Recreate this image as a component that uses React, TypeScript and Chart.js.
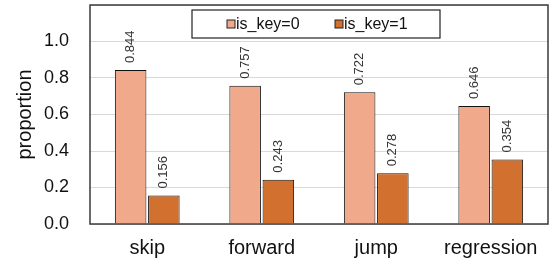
import React, { useEffect, useRef } from "react";
import { Chart, registerables } from "chart.js";

Chart.register(...registerables);

const categories = ["skip", "forward", "jump", "regression"];
const seriesLabels = ["is_key=0", "is_key=1"];
const isKey0 = [0.844, 0.757, 0.722, 0.646];
const isKey1 = [0.156, 0.243, 0.278, 0.354];
const yTicks = [0, 0.2, 0.4, 0.6, 0.8, 1.0];

const COLORS = ["#F0A98B", "#D2702F"];
const FONT = "'Liberation Sans', Arial, sans-serif";

const framePlugin = {
  id: "frame",
  afterDatasetsDraw(chart: any) {
    const { ctx, chartArea } = chart;
    ctx.save();
    ctx.strokeStyle = "#3a3a3a";
    ctx.lineWidth = 1.5;
    ctx.strokeRect(chartArea.left, chartArea.top, chartArea.right - chartArea.left, chartArea.bottom - chartArea.top);
    ctx.restore();
  },
};

const valueLabelPlugin = {
  id: "valueLabels",
  afterDatasetsDraw(chart: any) {
    const { ctx } = chart;
    ctx.save();
    ctx.font = `13px ${FONT}`;
    ctx.fillStyle = "#333";
    ctx.textAlign = "left";
    ctx.textBaseline = "middle";
    chart.data.datasets.forEach((ds: any, di: number) => {
      const meta = chart.getDatasetMeta(di);
      meta.data.forEach((bar: any, i: number) => {
        const v = ds.data[i];
        ctx.save();
        ctx.translate(bar.x, bar.y - 7);
        ctx.rotate(-Math.PI / 2);
        ctx.fillText(v.toFixed(3), 0, 0);
        ctx.restore();
      });
    });
    ctx.restore();
  },
};

const legendPlugin = {
  id: "boxLegend",
  afterDraw(chart: any) {
    const { ctx, chartArea } = chart;
    ctx.save();
    const boxW = 248;
    const boxH = 28;
    const cx = (chartArea.left + chartArea.right) / 2 - 3;
    const x0 = cx - boxW / 2;
    const y0 = chartArea.top + 5;
    ctx.fillStyle = "#fff";
    ctx.fillRect(x0, y0, boxW, boxH);
    ctx.strokeStyle = "#222";
    ctx.lineWidth = 1.2;
    ctx.strokeRect(x0, y0, boxW, boxH);
    ctx.font = `16px ${FONT}`;
    ctx.textBaseline = "middle";
    ctx.textAlign = "left";
    const starts = [x0 + 35, x0 + 143];
    chart.data.datasets.forEach((ds: any, i: number) => {
      const mx = starts[i];
      const my = y0 + boxH / 2;
      ctx.fillStyle = ds.backgroundColor;
      ctx.fillRect(mx, my - 4, 8, 8);
      ctx.strokeStyle = "#222";
      ctx.lineWidth = 1;
      ctx.strokeRect(mx, my - 4, 8, 8);
      ctx.fillStyle = "#111";
      ctx.fillText(ds.label, mx + 9, my + 1);
    });
    ctx.restore();
  },
};

export default function App() {
  const ref = useRef<HTMLCanvasElement>(null);
  useEffect(() => {
    document.body.style.margin = "0";
    const chart = new Chart(ref.current!, {
      type: "bar",
      data: {
        labels: categories,
        datasets: [
          { label: seriesLabels[0], data: isKey0, backgroundColor: COLORS[0], borderColor: "#111", borderWidth: 1 },
          { label: seriesLabels[1], data: isKey1, backgroundColor: COLORS[1], borderColor: "#111", borderWidth: 1 },
        ],
      },
      options: {
        animation: false,
        responsive: false,
        maintainAspectRatio: false,
        layout: { padding: { top: 5, right: 3, left: 0, bottom: 0 } },
        datasets: { bar: { categoryPercentage: 0.58, barPercentage: 0.95 } } as any,
        plugins: { legend: { display: false }, tooltip: { enabled: false } },
        scales: {
          x: {
            grid: { display: false, drawTicks: false },
            border: { display: false },
            ticks: { font: { size: 20, family: FONT }, color: "#111", padding: 12 },
            afterFit(scale: any) {
              scale.height = 35;
              scale.paddingLeft = 0;
              scale.paddingRight = 0;
            },
          },
          y: {
            min: 0,
            max: 1.2,
            afterBuildTicks(scale: any) {
              scale.ticks = [...yTicks, 1.2].map((v) => ({ value: v }));
            },
            grid: { color: "#d9d9d9", drawTicks: false, lineWidth: 1 },
            border: { display: false },
            ticks: {
              font: { size: 18, family: FONT },
              color: "#111",
              padding: 21,
              callback: (v: any) => (yTicks.some((t) => Math.abs(t - v) < 1e-6) ? Number(v).toFixed(1) : ""),
            },
            title: { display: true, text: "proportion", font: { size: 20, family: FONT }, color: "#111", padding: { top: 13, bottom: 0 } },
            afterFit(scale: any) {
              scale.width = 90;
              scale.paddingTop = 0;
              scale.paddingBottom = 0;
            },
          },
        },
      },
      plugins: [framePlugin, valueLabelPlugin, legendPlugin],
    });
    return () => chart.destroy();
  }, []);
  return (
    <div style={{ width: 551, height: 259 }}>
      <canvas ref={ref} width={551} height={259} style={{ display: "block" }} />
    </div>
  );
}
